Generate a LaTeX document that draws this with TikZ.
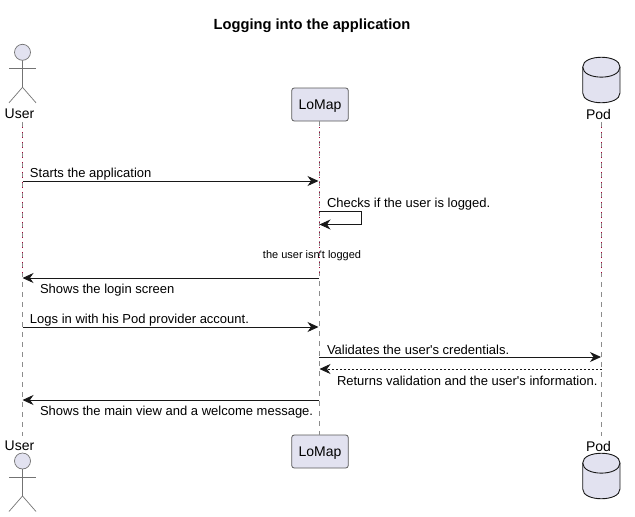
\documentclass[tikz,border=0pt]{standalone}
\usepackage{fontspec}
\setmainfont{Liberation Sans}
\usetikzlibrary{arrows.meta}

\definecolor{partfill}{HTML}{E2E2F0}
\definecolor{partline}{HTML}{181818}
\definecolor{lifered}{HTML}{A80036}

\begin{document}
\begin{tikzpicture}[x=1pt, y=-1pt, font=\fontsize{13}{15}\selectfont,
  every node/.style={inner sep=0pt, outer sep=0pt},
  msgtext/.style={anchor=west, text=black},
  parttext/.style={font=\fontsize{14}{16}\selectfont},
  msg/.style={draw=partline, line width=0.9pt, -{Stealth[length=11pt, width=10pt, inset=3.5pt]}},
  lifeline/.style={draw=gray!90, line width=0.7pt, dash pattern=on 5pt off 5pt},
  lifedots/.style={draw=lifered, line width=0.8pt, dash pattern=on 1pt off 4pt},
  actorline/.style={draw=gray!90!black, line width=0.7pt},
  box/.style={draw=gray!70!black, fill=partfill, line width=0.8pt, rounded corners=2.5pt,
    minimum width=56.5pt, minimum height=33pt, text depth=0pt, parttext}]
\useasboundingbox (0,0) rectangle (635,517);

\node [font=\fontsize{14.7}{17}\selectfont\bfseries] (title) at (312,26) {Logging into the application};

% top row
\node [parttext] (userT) at (19.5,114) {User};
\node [box] (lomapT) at (320,104.5) {LoMap};
\node [parttext] (podT) at (598.5,114) {Pod};

% bottom row
\node [parttext] (userB) at (19.5,446) {User};
\node [box] (lomapB) at (320,451.5) {LoMap};
\node [parttext] (podB) at (598.5,446) {Pod};

% lifelines
\coordinate (u1) at (22.5,122);
\coordinate (u2) at (22.5,436);
\coordinate (l1) at (319,121);
\coordinate (l2) at (319,435);
\coordinate (p1) at (601.5,122);
\coordinate (p2) at (601.5,436);
\coordinate (ud1) at (22.5,127);
\coordinate (ud2) at (22.5,276);
\coordinate (ld1) at (319,127);
\coordinate (ld2) at (319,276);
\coordinate (pd1) at (601.5,127);
\coordinate (pd2) at (601.5,276);
\draw [lifeline] (u1) -- (u2);
\draw [lifeline] (l1) -- (l2);
\draw [lifeline] (p1) -- (p2);
\draw [lifedots] (ud1) -- (ud2);
\draw [lifedots] (ld1) -- (ld2);
\draw [lifedots] (pd1) -- (pd2);

% actors
\foreach \yy in {52.3, 461} {
  \draw [actorline, fill=partfill] (22.5,\yy) circle (8);
  \draw [actorline] (22.5,\yy+8) -- (22.5,\yy+35) -- (9,\yy+50.5);
  \draw [actorline] (22.5,\yy+35) -- (36,\yy+50.5);
  \draw [actorline] (9,\yy+16) -- (36,\yy+16);
}

% databases
\foreach \yy in {57, 453} {
  \draw [partline, fill=partfill, line width=0.9pt] (582.7,\yy+10)
    .. controls (582.7,\yy-3) and (620,\yy-3) .. (620,\yy+10)
    -- (620,\yy+36)
    .. controls (620,\yy+49) and (582.7,\yy+49) .. (582.7,\yy+36) -- cycle;
  \draw [partline, line width=0.9pt] (582.7,\yy+10)
    .. controls (582.7,\yy+23.5) and (620,\yy+23.5) .. (620,\yy+10);
}

% messages
\coordinate (m1a) at (22.5,181);   \coordinate (m1b) at (318.5,181);
\coordinate (s1) at (319,211);     \coordinate (s2) at (361,211);
\coordinate (s3) at (361,224.5);   \coordinate (s4) at (319.5,224.5);
\coordinate (m2a) at (319,278);    \coordinate (m2b) at (22.5,278);
\coordinate (m3a) at (22.5,327);   \coordinate (m3b) at (318.5,327);
\coordinate (m4a) at (319,357);    \coordinate (m4b) at (601,357);
\coordinate (m5a) at (601.5,369);  \coordinate (m5b) at (319.5,369);
\coordinate (m6a) at (319,400);    \coordinate (m6b) at (22.5,400);

\draw [msg] (m1a) -- (m1b);
\draw [msg] (s1) -- (s2) -- (s3) -- (s4);
\draw [msg] (m2a) -- (m2b);
\draw [msg] (m3a) -- (m3b);
\draw [msg] (m4a) -- (m4b);
\draw [msg, line width=0.7pt, dash pattern=on 2pt off 2pt] (m5a) -- (m5b);
\draw [msg] (m6a) -- (m6b);

\node [msgtext] (t1) at (30,174) {Starts the application};
\node [msgtext] (t2) at (327,204) {Checks if the user is logged.};
\node [font=\fontsize{11}{13}\selectfont] (t3) at (312,255.5) {the user isn\textquotesingle t logged};
\node [msgtext] (t4) at (40,290) {Shows the login screen};
\node [msgtext] (t5) at (30,320) {Logs in with his Pod provider account.};
\node [msgtext] (t6) at (327,350) {Validates the user\textquotesingle s credentials.};
\node [msgtext] (t7) at (337,381) {Returns validation and the user\textquotesingle s information.};
\node [msgtext] (t8) at (40,412) {Shows the main view and a welcome message.};
\end{tikzpicture}
\end{document}
